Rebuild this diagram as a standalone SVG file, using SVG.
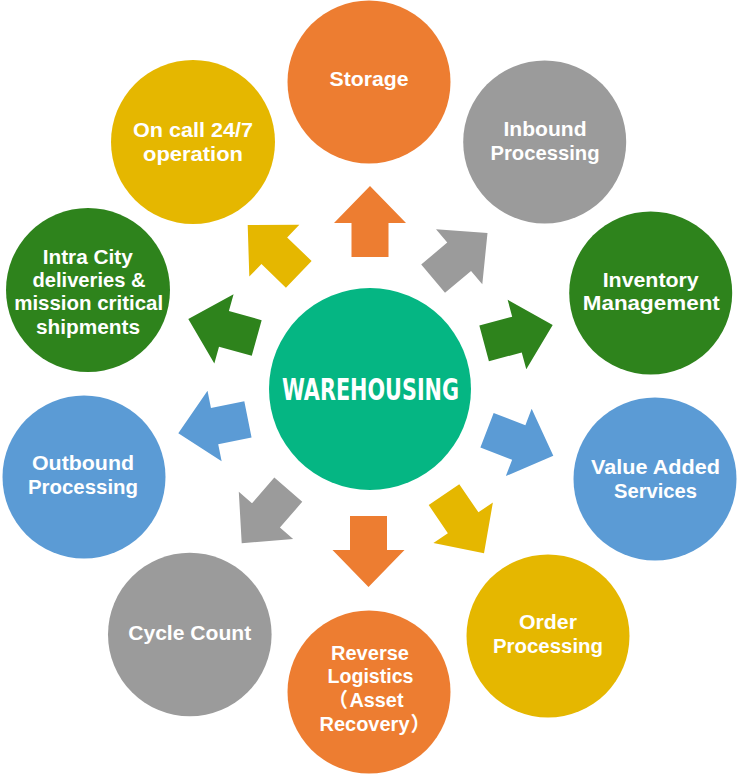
<svg xmlns="http://www.w3.org/2000/svg" width="738" height="775" viewBox="0 0 738 775">
<defs>
<path id="arr" d="M0,0 L36,37 L18.5,37 L18.5,71 L-18.5,71 L-18.5,37 L-36,37 Z"/>
</defs>
<style>
.lbl{font-family:"Liberation Sans","Noto Sans CJK SC",sans-serif;font-weight:bold;font-size:20px;fill:#fff;text-anchor:middle}
.st{text-anchor:start}
.ttl{font-family:"DejaVu Sans Condensed","DejaVu Sans",sans-serif;font-weight:bold;font-size:31px;fill:#fff;text-anchor:middle}
.or{fill:#ED7D31}.gr{fill:#9B9B9B}.gn{fill:#2E831C}.bl{fill:#5B9BD5}.ye{fill:#E5B700}.te{fill:#05B683}
</style>
<rect width="738" height="775" fill="#fff"/>
<g id="connectors">
<use href="#arr" class="or" transform="translate(370,186) rotate(0)"/>
<use href="#arr" class="gr" transform="translate(487.5,233) rotate(50)"/>
<use href="#arr" class="gn" transform="translate(552.7,325) rotate(75)"/>
<use href="#arr" class="bl" transform="translate(553.3,455.7) rotate(111)"/>
<use href="#arr" class="ye" transform="translate(484,553.3) rotate(145.7)"/>
<use href="#arr" class="or" transform="translate(368.5,587) rotate(180)"/>
<use href="#arr" class="gr" transform="translate(241.7,543.3) rotate(221)"/>
<use href="#arr" class="bl" transform="translate(178.3,433.3) rotate(258.7)"/>
<use href="#arr" class="gn" transform="translate(188.3,319) rotate(285.5)"/>
<use href="#arr" class="ye" transform="translate(247.7,225) rotate(314)"/>
</g>
<g id="warehousing">
<circle cx="370" cy="389" r="101" class="te"/>
<text x="370.5" y="400" class="ttl" textLength="177" lengthAdjust="spacingAndGlyphs">WAREHOUSING</text>
</g>
<g id="storage">
<circle cx="369" cy="82" r="81.5" class="or"/>
<text x="369" y="86" class="lbl" textLength="79" lengthAdjust="spacingAndGlyphs">Storage</text>
</g>
<g id="inbound">
<circle cx="544.7" cy="142" r="81.5" class="gr"/>
<text x="545" y="136.3" class="lbl" textLength="83" lengthAdjust="spacingAndGlyphs">Inbound</text>
<text x="545" y="159.5" class="lbl" textLength="109" lengthAdjust="spacingAndGlyphs">Processing</text>
</g>
<g id="inventory">
<circle cx="650.7" cy="293" r="81.5" class="gn"/>
<text x="650.7" y="287.3" class="lbl" textLength="96" lengthAdjust="spacingAndGlyphs">Inventory</text>
<text x="651.3" y="310.3" class="lbl" textLength="137" lengthAdjust="spacingAndGlyphs">Management</text>
</g>
<g id="value-added">
<circle cx="655" cy="479" r="81.5" class="bl"/>
<text x="655.5" y="474" class="lbl" textLength="129" lengthAdjust="spacingAndGlyphs">Value Added</text>
<text x="655.5" y="498" class="lbl" textLength="83" lengthAdjust="spacingAndGlyphs">Services</text>
</g>
<g id="order">
<circle cx="548" cy="636" r="81.5" class="ye"/>
<text x="548" y="629" class="lbl" textLength="58" lengthAdjust="spacingAndGlyphs">Order</text>
<text x="548" y="653" class="lbl" textLength="110" lengthAdjust="spacingAndGlyphs">Processing</text>
</g>
<g id="reverse">
<circle cx="369" cy="692" r="81.5" class="or"/>
<text x="370" y="660" class="lbl" textLength="78" lengthAdjust="spacingAndGlyphs">Reverse</text>
<text x="370.5" y="683.3" class="lbl" textLength="86" lengthAdjust="spacingAndGlyphs">Logistics</text>
<text y="706.7" class="lbl st"><tspan x="328">（</tspan><tspan x="349.5" textLength="54" lengthAdjust="spacingAndGlyphs">Asset</tspan></text>
<text y="731" class="lbl st"><tspan x="319.5" textLength="90" lengthAdjust="spacingAndGlyphs">Recovery</tspan><tspan x="410.5">）</tspan></text>
</g>
<g id="cycle">
<circle cx="189.8" cy="634.5" r="81.8" class="gr"/>
<text x="189.7" y="639.7" class="lbl" textLength="123" lengthAdjust="spacingAndGlyphs">Cycle Count</text>
</g>
<g id="outbound">
<circle cx="84" cy="477" r="81.5" class="bl"/>
<text x="83" y="470" class="lbl" textLength="102" lengthAdjust="spacingAndGlyphs">Outbound</text>
<text x="83" y="494" class="lbl" textLength="110" lengthAdjust="spacingAndGlyphs">Processing</text>
</g>
<g id="intra">
<circle cx="88" cy="290" r="82" class="gn"/>
<text x="87.7" y="263.7" class="lbl" textLength="90" lengthAdjust="spacingAndGlyphs">Intra City</text>
<text x="89" y="287" class="lbl" textLength="113" lengthAdjust="spacingAndGlyphs">deliveries &amp;</text>
<text x="88.7" y="310.3" class="lbl" textLength="149" lengthAdjust="spacingAndGlyphs">mission critical</text>
<text x="88" y="333.7" class="lbl" textLength="104" lengthAdjust="spacingAndGlyphs">shipments</text>
</g>
<g id="oncall">
<circle cx="193" cy="142" r="82" class="ye"/>
<text x="193" y="137" class="lbl" textLength="120" lengthAdjust="spacingAndGlyphs">On call 24/7</text>
<text x="193" y="161" class="lbl" textLength="100" lengthAdjust="spacingAndGlyphs">operation</text>
</g>
</svg>
